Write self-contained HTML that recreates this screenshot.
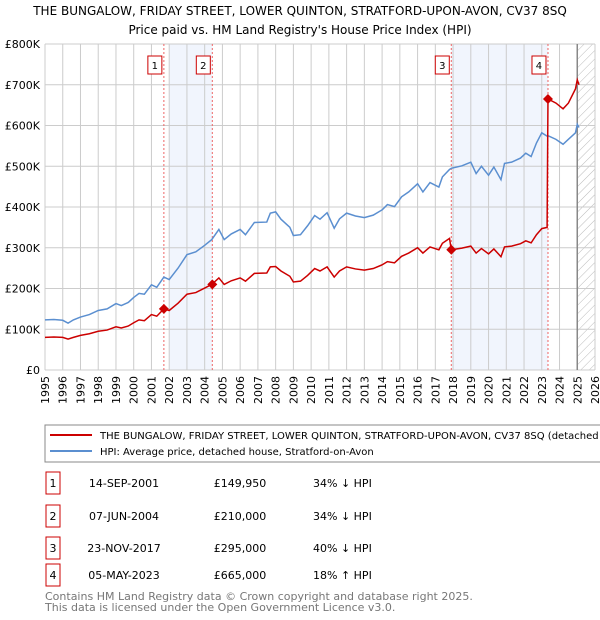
<!DOCTYPE html>
<html><head><meta charset="utf-8"><style>
body{margin:0;background:#fff;font-family:"Liberation Sans","DejaVu Sans",sans-serif;}
#wrap{position:relative;width:600px;height:620px;overflow:hidden;}
text{font-family:"DejaVu Sans","Liberation Sans",sans-serif;}
</style></head><body>
<div id="wrap">
<svg id="chart" width="600" height="620">
<text x="300" y="15" text-anchor="middle" font-size="12" fill="#000">THE BUNGALOW, FRIDAY STREET, LOWER QUINTON, STRATFORD-UPON-AVON, CV37 8SQ</text>
<text x="300" y="34" text-anchor="middle" font-size="12" fill="#000">Price paid vs. HM Land Registry's House Price Index (HPI)</text>
<g id="grid"></g><g id="marks"></g>
<rect x="45" y="425" width="560" height="37" fill="#fff" stroke="#888"/>
<line x1="50" y1="435" x2="92" y2="435" stroke="#cc0000" stroke-width="2"/>
<text x="100" y="439" font-size="10">THE BUNGALOW, FRIDAY STREET, LOWER QUINTON, STRATFORD-UPON-AVON, CV37 8SQ (detached house)</text>
<line x1="50" y1="451" x2="92" y2="451" stroke="#5b8fd0" stroke-width="2"/>
<text x="100" y="455" font-size="10">HPI: Average price, detached house, Stratford-on-Avon</text>
<g id="table"></g>
<text x="45" y="600" font-size="11" fill="#777">Contains HM Land Registry data © Crown copyright and database right 2025.</text>
<text x="45" y="611" font-size="11" fill="#777">This data is licensed under the Open Government Licence v3.0.</text>
</svg></div>
<script>
const dates=[1995.0,1995.5,1996.0,1996.3,1996.6,1997.0,1997.5,1998.0,1998.5,1999.0,1999.3,1999.7,2000.0,2000.3,2000.6,2001.0,2001.3,2001.7,2002.0,2002.5,2003.0,2003.5,2004.0,2004.4,2004.8,2005.1,2005.5,2006.0,2006.3,2006.8,2007.5,2007.7,2008.0,2008.3,2008.8,2009.0,2009.4,2009.8,2010.2,2010.5,2010.9,2011.3,2011.6,2012.0,2012.5,2013.0,2013.5,2014.0,2014.3,2014.7,2015.1,2015.5,2016.0,2016.3,2016.7,2017.2,2017.4,2017.8,2017.9,2018.5,2019.0,2019.3,2019.6,2020.0,2020.3,2020.7,2020.9,2021.3,2021.8,2022.1,2022.4,2022.7,2023.0,2023.3,2023.35,2023.8,2024.2,2024.5,2024.9,2025.0,2025.1];
const hpi=[123,124,122,115,123,130,136,146,150,163,158,166,178,188,186,209,203,228,222,250,283,290,306,320,345,320,334,345,332,362,363,385,388,370,350,330,332,354,379,370,386,348,371,385,378,374,380,393,406,401,425,437,457,437,460,449,474,492,495,501,510,482,500,478,498,467,507,510,520,532,524,557,582,574,575,566,554,566,582,603,595];
const price=[80,81,80,76,80,85,89,95,98,106,103,108,116,123,121,136,132,150,146,164,186,190,201,210,226,210,219,226,218,237,238,253,254,243,230,216,218,232,249,243,253,228,243,253,248,245,249,258,266,263,279,287,300,287,302,295,311,323,295,299,304,287,298,285,297,278,302,304,310,317,312,332,347,350,665,655,641,655,690,712,700];
const saleDates=[2001.7,2004.43,2017.9,2023.35];
const salePrices=[149.95,210,295,665];
const saleLabels=["1","2","3","4"];
const saleDateText=["14-SEP-2001","07-JUN-2004","23-NOV-2017","05-MAY-2023"];
const salePriceText=["£149,950","£210,000","£295,000","£665,000"];
const saleHpiText=["34% ↓ HPI","34% ↓ HPI","40% ↓ HPI","18% ↑ HPI"];
const yTicks=[0,100,200,300,400,500,600,700,800];
const yTickLabels=["£0","£100K","£200K","£300K","£400K","£500K","£600K","£700K","£800K"];
const years=[1995,1996,1997,1998,1999,2000,2001,2002,2003,2004,2005,2006,2007,2008,2009,2010,2011,2012,2013,2014,2015,2016,2017,2018,2019,2020,2021,2022,2023,2024,2025,2026];
const NS="http://www.w3.org/2000/svg";
const X=d=>45+(d-1995)*550/31, Y=v=>370-v*326/800;
function mk(tag,attrs,parent){const e=document.createElementNS(NS,tag);for(const k in attrs)e.setAttribute(k,attrs[k]);parent.appendChild(e);return e;}
const grid=document.getElementById('grid'),marks=document.getElementById('marks'),tbl=document.getElementById('table');
// shading
[[2002.0,saleDates[1]],[saleDates[2],saleDates[3]]].forEach((s,i)=>{
 const r=mk('rect',{x:X(s[0]),y:Y(800),width:X(s[1])-X(s[0]),height:Y(0)-Y(800),fill:'#eef3fc',opacity:0.8},grid);
 
 
});
// hatch future
const defs=mk('defs',{},grid);
const pat=mk('pattern',{id:'hatch',width:6,height:6,patternUnits:'userSpaceOnUse',patternTransform:'rotate(45)'},defs);
mk('line',{x1:0,y1:0,x2:0,y2:6,stroke:'#bbb','stroke-width':1},pat);
const hr=mk('rect',{x:X(2025.0),y:Y(800),width:595-X(2025.0),height:Y(0)-Y(800),fill:'url(#hatch)'},grid);


years.forEach((yr,i)=>{
 const l=mk('line',{x1:X(yr),x2:X(yr),y1:Y(800),y2:Y(0),stroke:'#ccc','stroke-width':1},grid);
 
 
 const t=mk('text',{x:0,y:0,'font-size':11,'text-anchor':'end',transform:`translate(${X(yr)+4},376) rotate(-90)`},grid);
 t.textContent=yr;
 
 
});
yTicks.forEach((v,i)=>{
 const l=mk('line',{x1:45,x2:595,y1:Y(v),y2:Y(v),stroke:'#ccc','stroke-width':1},grid);
 
 
 const t=mk('text',{x:40,y:Y(v)+4,'font-size':11,'text-anchor':'end'},grid);
 t.textContent=yTickLabels[i];
 
 
});
const nl=mk('line',{x1:X(2025.0),x2:X(2025.0),y1:Y(800),y2:Y(0),stroke:'#888','stroke-width':1.5},grid);


saleDates.forEach((d,i)=>{
 const l=mk('line',{x1:X(d),x2:X(d),y1:Y(800),y2:Y(0),stroke:'#e66','stroke-width':1,'stroke-dasharray':'2,2'},marks);
 
 
 const b=mk('rect',{x:X(d)-16,y:56,width:14,height:18,fill:'#fff',stroke:'#cc0000'},marks);
 
 
 const t=mk('text',{x:X(d)-9,y:69,'font-size':10,'text-anchor':'middle'},marks);
 t.textContent=saleLabels[i];
 
 
});
const hp=mk('polyline',{points:dates.map((d,i)=>X(d)+','+Y(hpi[i])).join(' '),fill:'none',stroke:'#5b8fd0','stroke-width':1.5},marks);


const pp=mk('polyline',{points:dates.map((d,i)=>X(d)+','+Y(price[i])).join(' '),fill:'none',stroke:'#cc0000','stroke-width':1.5},marks);


saleDates.forEach((d,i)=>{
 const x=X(d),y=Y(salePrices[i]);
 const p=mk('polygon',{points:`${x},${y-5} ${x+5},${y} ${x},${y+5} ${x-5},${y}`,fill:'#cc0000'},marks);
 
 
});
const rowY=[483,516,548,575];
rowY.forEach((y,i)=>{
 const b=mk('rect',{x:46,y:y-11,width:14,height:22,fill:'#fff',stroke:'#cc0000'},tbl);
 
 
 const cells=[[53,saleLabels[i],'middle'],[124,saleDateText[i],'middle'],[240,salePriceText[i],'middle'],[313,saleHpiText[i],'start']];
 cells.forEach(c=>{
  const t=mk('text',{x:c[0],y:y+4,'font-size':11,'text-anchor':c[2]},tbl);
  t.textContent=c[1];
  
  
 });
});
</script>
</body></html>
